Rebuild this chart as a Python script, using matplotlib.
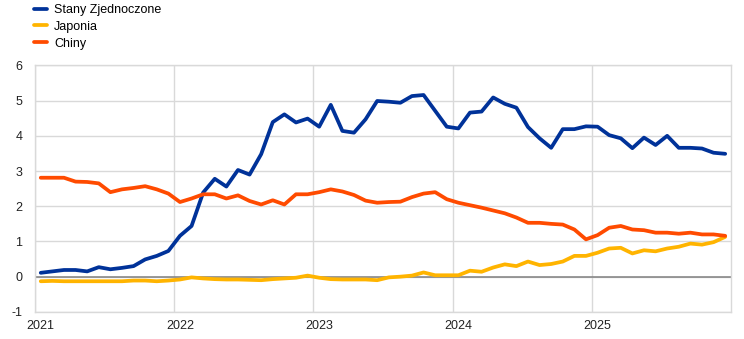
import matplotlib

matplotlib.use("Agg")
import matplotlib.pyplot as plt  # noqa: E402
import numpy as np  # noqa: E402

# monthly observations, Jan 2021 - Dec 2025
years = ["2021", "2022", "2023", "2024", "2025"]

us = [0.11, 0.15, 0.19, 0.19, 0.15, 0.27, 0.21, 0.25, 0.30, 0.49, 0.59, 0.73,
      1.16, 1.44, 2.39, 2.78, 2.56, 3.03, 2.90, 3.48, 4.39, 4.61, 4.38, 4.49,
      4.26, 4.88, 4.14, 4.09, 4.47, 4.99, 4.97, 4.94, 5.13, 5.16, 4.71, 4.26,
      4.21, 4.66, 4.69, 5.09, 4.91, 4.80, 4.25, 3.93, 3.66, 4.19, 4.19, 4.27,
      4.26, 4.02, 3.93, 3.65, 3.95, 3.74, 4.00, 3.66, 3.66, 3.64, 3.52, 3.49]

japan = [-0.13, -0.12, -0.13, -0.13, -0.13, -0.13, -0.13, -0.13, -0.11, -0.11, -0.13, -0.11,
         -0.08, -0.02, -0.05, -0.07, -0.08, -0.08, -0.09, -0.10, -0.07, -0.05, -0.03, 0.03,
         -0.03, -0.07, -0.08, -0.08, -0.08, -0.10, -0.02, 0.00, 0.03, 0.12, 0.04, 0.04,
         0.04, 0.17, 0.14, 0.26, 0.35, 0.30, 0.43, 0.33, 0.36, 0.43, 0.59, 0.59,
         0.68, 0.80, 0.82, 0.66, 0.75, 0.72, 0.80, 0.85, 0.94, 0.91, 0.98, 1.13]

china = [2.81, 2.81, 2.81, 2.70, 2.69, 2.65, 2.40, 2.48, 2.52, 2.57, 2.48, 2.36,
         2.12, 2.22, 2.34, 2.34, 2.22, 2.31, 2.15, 2.05, 2.17, 2.05, 2.34, 2.34,
         2.40, 2.48, 2.42, 2.32, 2.16, 2.10, 2.12, 2.13, 2.26, 2.36, 2.40, 2.20,
         2.10, 2.03, 1.96, 1.88, 1.80, 1.68, 1.53, 1.53, 1.50, 1.48, 1.34, 1.06,
         1.18, 1.39, 1.44, 1.34, 1.32, 1.25, 1.25, 1.22, 1.25, 1.20, 1.20, 1.16]

series = [("Stany Zjednoczone", us, "#003299"),
          ("Japonia", japan, "#ffb400"),
          ("Chiny", china, "#ff4b00")]

plt.rcParams["font.family"] = ["Liberation Sans", "DejaVu Sans"]

fig = plt.figure(figsize=(7.44, 3.39), dpi=100)
ax = fig.add_axes([0.047, 0.080, 0.9355, 0.727])

x = np.arange(len(us)) + 0.5          # points sit mid-month
grid_c = "#d9d9d9"

ax.axhline(0, color="#7f7f7f", lw=1.1, zorder=2)
handles = []
for name, vals, col in series:
    (ln,) = ax.plot(x, vals, color=col, lw=2.7, solid_joinstyle="round",
                    solid_capstyle="round", label=name, zorder=3)
    handles.append(ln)

ax.set_xlim(0, len(us))
ax.set_ylim(-1, 6)
ax.set_yticks(range(-1, 7))
ax.set_yticklabels([str(v) for v in range(-1, 7)])

# year boundaries carry the grid, labels sit on the January point
year_starts = np.arange(len(years)) * 12
ax.set_xticks(year_starts + 0.5)
ax.set_xticklabels(years)
ax.set_xticks(year_starts, minor=True)
ax.grid(True, which="minor", axis="x", color=grid_c, lw=1.0, zorder=0)
ax.grid(True, which="major", axis="y", color=grid_c, lw=1.0, zorder=0)
ax.tick_params(axis="both", which="both", length=0, labelsize=9, colors="#222222")
ax.tick_params(axis="y", pad=9)
ax.tick_params(axis="x", pad=6)
for sp in ax.spines.values():
    sp.set_color(grid_c)
    sp.set_linewidth(1.0)

fig.legend(handles=handles, loc="upper left", bbox_to_anchor=(0.036, 1.01),
           frameon=False, fontsize=9, handlelength=1.0, handletextpad=0.6,
           labelspacing=0.38, borderaxespad=0.2)

fig.savefig("out.png", dpi=100)
plt.close(fig)
